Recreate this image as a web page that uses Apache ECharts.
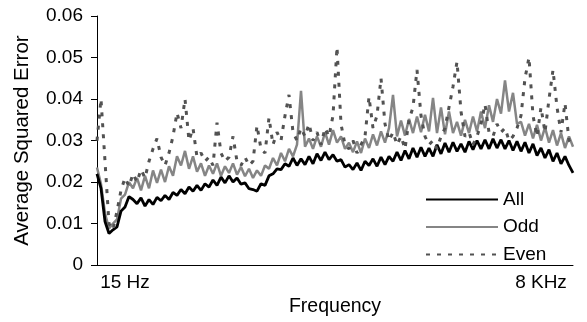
<!DOCTYPE html>
<html>
<head>
<meta charset="utf-8">
<script src="https://cdn.jsdelivr.net/npm/echarts@6/dist/echarts.min.js"></script>
<style>
html,body{margin:0;padding:0;background:#fff;}
#chart{width:587px;height:322px;}
</style>
</head>
<body>
<div id="chart"></div>
<script>
// Frequency bins (index 0 = 15 Hz ... last = ~8.3 KHz)
const seriesNames = ['All', 'Odd', 'Even'];
const xTickIndex = [7, 111];
const xTickLabels = ['15 Hz', '8 KHz'];
const yTicks = [0, 0.01, 0.02, 0.03, 0.04, 0.05, 0.06];

const allErr = [
0.0220,0.0185,0.0105,0.0076,0.0085,0.0092,0.0130,0.0140,0.0165,0.0158,
0.0148,0.0162,0.0142,0.0158,0.0146,0.0163,0.0155,0.0168,0.0158,0.0175,
0.0168,0.0182,0.0172,0.0188,0.0178,0.0192,0.0180,0.0196,0.0188,0.0205,
0.0192,0.0212,0.0198,0.0215,0.0200,0.0210,0.0195,0.0198,0.0184,0.0182,
0.0178,0.0196,0.0192,0.0215,0.0220,0.0232,0.0230,0.0244,0.0238,0.0258,
0.0240,0.0256,0.0242,0.0262,0.0244,0.0268,0.0252,0.0272,0.0254,0.0266,
0.0250,0.0254,0.0236,0.0242,0.0230,0.0246,0.0228,0.0250,0.0240,0.0256,
0.0238,0.0260,0.0242,0.0262,0.0250,0.0272,0.0252,0.0276,0.0256,0.0282,
0.0260,0.0284,0.0262,0.0282,0.0262,0.0290,0.0268,0.0294,0.0272,0.0296,
0.0274,0.0292,0.0272,0.0298,0.0278,0.0300,0.0280,0.0302,0.0280,0.0304,
0.0282,0.0302,0.0280,0.0300,0.0276,0.0298,0.0274,0.0296,0.0270,0.0292,
0.0264,0.0282,0.0258,0.0278,0.0250,0.0270,0.0244,0.0262,0.0240,0.0222
];

const oddErr = [
0.0235,0.0195,0.0125,0.0088,0.0100,0.0110,0.0160,0.0170,0.0200,0.0185,
0.0210,0.0180,0.0215,0.0185,0.0228,0.0198,0.0230,0.0200,0.0238,0.0215,
0.0262,0.0240,0.0275,0.0232,0.0262,0.0225,0.0245,0.0215,0.0240,0.0220,
0.0245,0.0215,0.0238,0.0222,0.0245,0.0218,0.0236,0.0214,0.0232,0.0210,
0.0228,0.0215,0.0240,0.0232,0.0258,0.0240,0.0270,0.0250,0.0280,0.0262,
0.0290,0.0420,0.0285,0.0305,0.0280,0.0310,0.0285,0.0320,0.0290,0.0325,
0.0295,0.0310,0.0280,0.0295,0.0272,0.0298,0.0270,0.0305,0.0282,0.0315,
0.0288,0.0322,0.0295,0.0330,0.0410,0.0310,0.0348,0.0312,0.0352,0.0318,
0.0358,0.0320,0.0362,0.0322,0.0403,0.0318,0.0380,0.0315,0.0370,0.0318,
0.0345,0.0312,0.0350,0.0318,0.0358,0.0322,0.0370,0.0330,0.0385,0.0345,
0.0400,0.0365,0.0445,0.0370,0.0415,0.0340,0.0345,0.0312,0.0340,0.0305,
0.0338,0.0300,0.0332,0.0295,0.0325,0.0288,0.0318,0.0282,0.0310,0.0285
];

const evenErr = [
0.0300,0.0400,0.0250,0.0100,0.0085,0.0130,0.0180,0.0210,0.0190,0.0220,
0.0200,0.0230,0.0210,0.0250,0.0280,0.0305,0.0260,0.0240,0.0270,0.0310,
0.0367,0.0330,0.0400,0.0300,0.0330,0.0260,0.0270,0.0250,0.0260,0.0240,
0.0343,0.0270,0.0250,0.0260,0.0310,0.0250,0.0240,0.0260,0.0240,0.0250,
0.0336,0.0280,0.0270,0.0355,0.0290,0.0320,0.0300,0.0360,0.0410,0.0320,
0.0300,0.0330,0.0310,0.0340,0.0300,0.0320,0.0290,0.0330,0.0310,0.0360,
0.0525,0.0340,0.0290,0.0280,0.0300,0.0270,0.0290,0.0310,0.0405,0.0330,
0.0360,0.0450,0.0340,0.0300,0.0320,0.0290,0.0310,0.0280,0.0350,0.0380,
0.0470,0.0360,0.0310,0.0290,0.0300,0.0280,0.0310,0.0330,0.0380,0.0430,
0.0490,0.0370,0.0310,0.0320,0.0290,0.0310,0.0340,0.0387,0.0320,0.0310,
0.0340,0.0320,0.0330,0.0300,0.0310,0.0330,0.0360,0.0450,0.0500,0.0360,
0.0310,0.0380,0.0320,0.0400,0.0470,0.0380,0.0320,0.0390,0.0300,0.0290
];

const toPairs = arr => arr.map((v, i) => [i, v]);
const chart = echarts.init(document.getElementById('chart'), null, {renderer: 'canvas'});
const font = 'Liberation Sans, Arial, sans-serif';

chart.setOption({
  animation: false,
  backgroundColor: '#fff',
  textStyle: {fontFamily: font},
  grid: {left: 97, right: 14, top: 16, bottom: 47, containLabel: false},
  legend: {
    orient: 'vertical',
    left: 425,
    top: 190,
    padding: 0,
    itemWidth: 72,
    itemHeight: 14,
    itemGap: 8.5,
    data: seriesNames,
    itemStyle: {opacity: 0},
    textStyle: {fontSize: 19, color: '#000', fontFamily: font}
  },
  xAxis: {
    type: 'value',
    min: 0,
    max: allErr.length - 1,
    splitLine: {show: false},
    axisLine: {lineStyle: {color: '#000', width: 1}},
    axisTick: {show: false},
    axisLabel: {
      customValues: xTickIndex,
      formatter: v => xTickLabels[xTickIndex.indexOf(v)] || '',
      fontSize: 19, color: '#000', margin: 8, fontFamily: font
    },
    name: 'Frequency',
    nameLocation: 'middle',
    nameGap: 24,
    nameTextStyle: {fontSize: 19.5, color: '#000', fontFamily: font}
  },
  yAxis: {
    type: 'value',
    min: yTicks[0],
    max: yTicks[yTicks.length - 1],
    interval: 0.01,
    splitLine: {show: false},
    axisLine: {show: true, lineStyle: {color: '#000', width: 1}},
    axisTick: {show: true, inside: false, length: 6, lineStyle: {color: '#000'}},
    axisLabel: {fontSize: 19, color: '#000', margin: 14, fontFamily: font},
    name: 'Average Squared Error',
    nameLocation: 'middle',
    nameGap: 64,
    nameTextStyle: {fontSize: 20.5, color: '#000', fontFamily: font}
  },
  series: [
    {name: 'All', type: 'line', symbol: 'none', data: toPairs(allErr),
     lineStyle: {color: '#000', width: 2.8}, itemStyle: {color: '#000'}, z: 3},
    {name: 'Odd', type: 'line', symbol: 'none', data: toPairs(oddErr),
     lineStyle: {color: '#858585', width: 2.5}, itemStyle: {color: '#858585'}, z: 2},
    {name: 'Even', type: 'line', symbol: 'none', data: toPairs(evenErr),
     lineStyle: {color: '#525252', width: 3, type: [4, 7]}, itemStyle: {color: '#525252'}, z: 4}
  ]
});
</script>
</body>
</html>
